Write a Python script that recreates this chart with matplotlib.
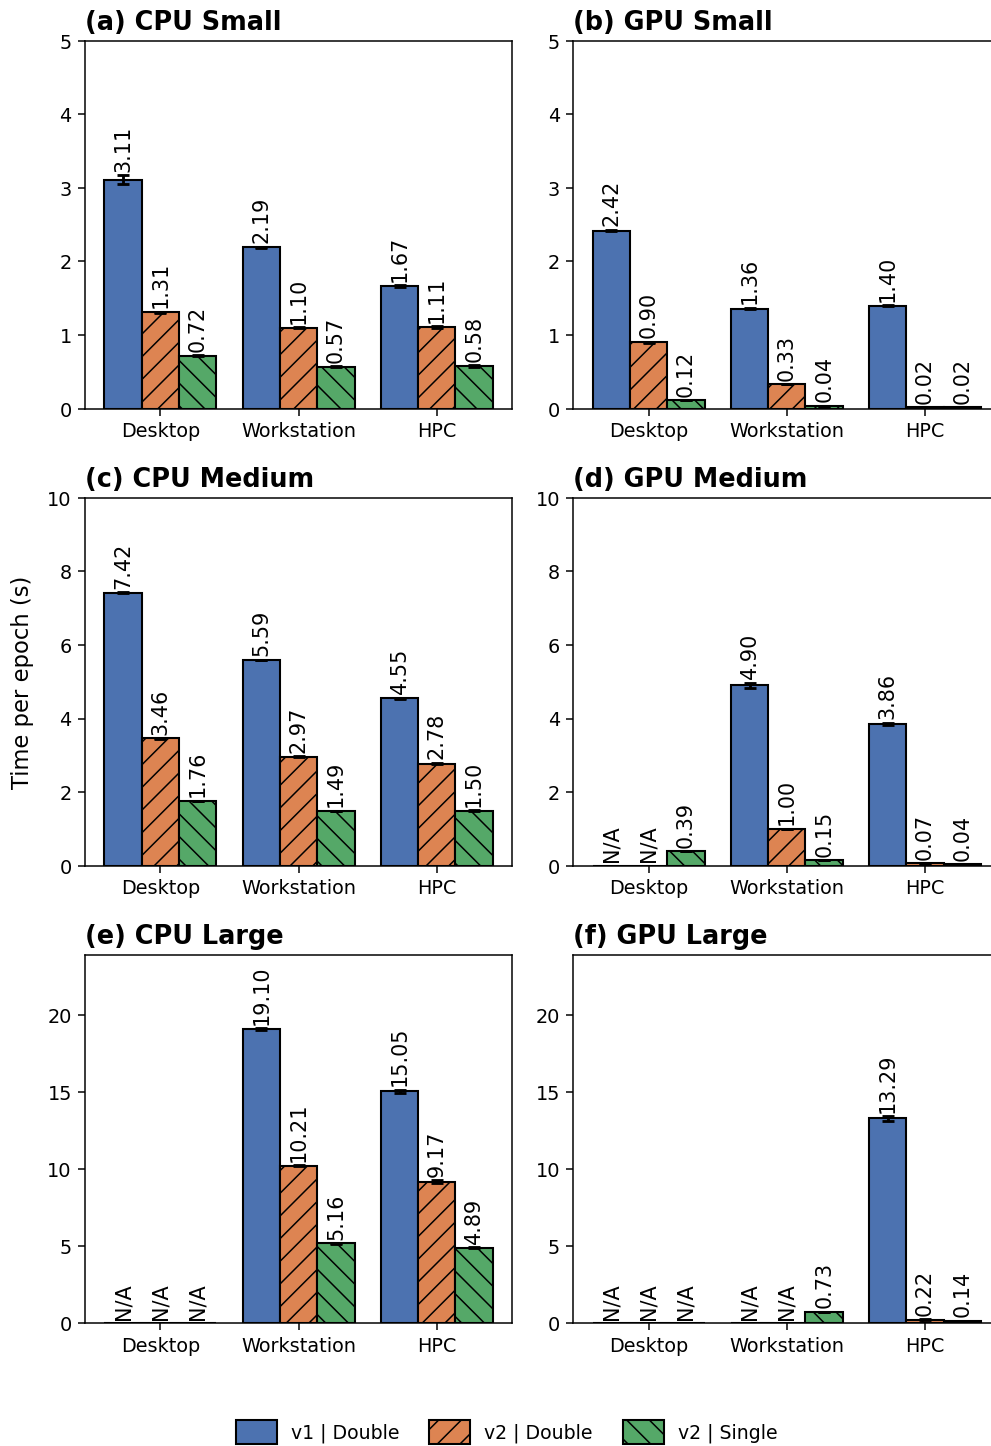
import numpy as np
import matplotlib
matplotlib.use("Agg")
import matplotlib.pyplot as plt
from matplotlib.patches import Patch

categories = ["Desktop", "Workstation", "HPC"]
series_labels = ["v1 | Double", "v2 | Double", "v2 | Single"]
nan = np.nan

titles = ["(a) CPU Small", "(b) GPU Small", "(c) CPU Medium",
          "(d) GPU Medium", "(e) CPU Large", "(f) GPU Large"]

# values per panel: [v1 double, v2 double, v2 single], each over categories
cpu_small_v1 = [3.11, 2.19, 1.67]
cpu_small_v2d = [1.31, 1.10, 1.11]
cpu_small_v2s = [0.72, 0.57, 0.58]
gpu_small_v1 = [2.42, 1.36, 1.40]
gpu_small_v2d = [0.90, 0.33, 0.02]
gpu_small_v2s = [0.12, 0.04, 0.02]
cpu_medium_v1 = [7.42, 5.59, 4.55]
cpu_medium_v2d = [3.46, 2.97, 2.78]
cpu_medium_v2s = [1.76, 1.49, 1.50]
gpu_medium_v1 = [nan, 4.90, 3.86]
gpu_medium_v2d = [nan, 1.00, 0.07]
gpu_medium_v2s = [0.39, 0.15, 0.04]
cpu_large_v1 = [nan, 19.10, 15.05]
cpu_large_v2d = [nan, 10.21, 9.17]
cpu_large_v2s = [nan, 5.16, 4.89]
gpu_large_v1 = [nan, nan, 13.29]
gpu_large_v2d = [nan, nan, 0.22]
gpu_large_v2s = [nan, 0.73, 0.14]

# error bars (std)
cpu_small_err = [[0.06, 0.01, 0.01], [0.01, 0.01, 0.01], [0.01, 0.01, 0.01]]
gpu_small_err = [[0.01, 0.01, 0.01], [0.01, 0.0, 0.0], [0.0, 0.0, 0.0]]
cpu_medium_err = [[0.02, 0.01, 0.02], [0.01, 0.01, 0.02], [0.01, 0.01, 0.01]]
gpu_medium_err = [[0.0, 0.08, 0.03], [0.0, 0.01, 0.0], [0.0, 0.0, 0.0]]
cpu_large_err = [[0.0, 0.05, 0.10], [0.0, 0.03, 0.10], [0.0, 0.02, 0.02]]
gpu_large_err = [[0.0, 0.0, 0.15], [0.0, 0.0, 0.01], [0.0, 0.0, 0.0]]

panels = [
    ([cpu_small_v1, cpu_small_v2d, cpu_small_v2s], cpu_small_err),
    ([gpu_small_v1, gpu_small_v2d, gpu_small_v2s], gpu_small_err),
    ([cpu_medium_v1, cpu_medium_v2d, cpu_medium_v2s], cpu_medium_err),
    ([gpu_medium_v1, gpu_medium_v2d, gpu_medium_v2s], gpu_medium_err),
    ([cpu_large_v1, cpu_large_v2d, cpu_large_v2s], cpu_large_err),
    ([gpu_large_v1, gpu_large_v2d, gpu_large_v2s], gpu_large_err),
]
row_ylims = [5, 10, 23.9]

colors = ["#4C72B0", "#DD8452", "#55A868"]
hatches = ["", "//", "\\\\"]

dpi = 136
fig = plt.figure(figsize=(991.4 / dpi, 1446.4 / dpi), dpi=dpi)
plt.rcParams["hatch.linewidth"] = 0.8

W, H = 991.0, 1446.0
ax_w = 427 / W
ax_h = 368 / H
lefts = [85 / W, 573 / W]
bottoms = [1 - 409 / H, 1 - 866 / H, 1 - 1323 / H]

width = 0.27
x = np.arange(len(categories))
for i, (vals, errs) in enumerate(panels):
    r, c = divmod(i, 2)
    ax = fig.add_axes([lefts[c], bottoms[r], ax_w, ax_h])
    for j in range(3):
        v = np.array(vals[j], dtype=float)
        e = np.array(errs[j], dtype=float)
        h = np.nan_to_num(v, nan=0.0)
        pos = x + (j - 1) * width
        ax.bar(pos, h, width, color=colors[j], hatch=hatches[j],
               edgecolor="black", linewidth=1.1, zorder=2)
        ok = ~np.isnan(v)
        ax.errorbar(pos[ok], v[ok], yerr=e[ok], fmt="none", ecolor="black",
                    elinewidth=1.5, capsize=3, capthick=1.5, zorder=3)
        for k in range(len(categories)):
            if np.isnan(v[k]):
                txt, y = "N/A", 0.0
            else:
                txt, y = f"{v[k]:.2f}", v[k] + e[k]
            ax.annotate(txt, (pos[k], y), xytext=(0, 2), textcoords="offset points",
                        ha="center", va="bottom", rotation=90, fontsize=11)
    ax.set_ylim(0, row_ylims[r])
    ax.set_xticks(x)
    ax.set_xticklabels(categories, fontsize=10.2)
    ax.tick_params(axis="y", labelsize=10.2)
    ax.set_title(titles[i], loc="left", fontsize=13.5, fontweight="bold")
    if i == 2:
        ax.set_ylabel("Time per epoch (s)", fontsize=12, labelpad=7)

handles = [Patch(facecolor=colors[j], hatch=hatches[j], edgecolor="black",
                 linewidth=1.1, label=series_labels[j]) for j in range(3)]
fig.legend(handles=handles, loc="center", bbox_to_anchor=(0.511, 1 - 1432 / H),
           ncol=3, frameon=False, fontsize=10, handlelength=2.15,
           handleheight=1.5, handletextpad=0.75, columnspacing=1.6)

fig.savefig("out.png", dpi=dpi)
